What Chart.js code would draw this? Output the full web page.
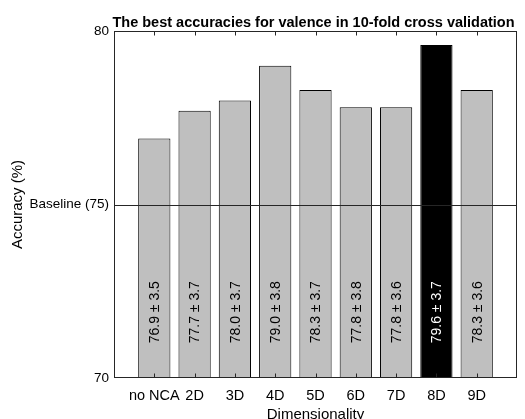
<!DOCTYPE html>
<html>
<head>
<meta charset="utf-8">
<script src="https://cdn.jsdelivr.net/npm/chart.js@4/dist/chart.umd.min.js"></script>
<style>
  html, body { margin: 0; padding: 0; background: #fff; }
  canvas { display: block; }
</style>
</head>
<body>
<canvas id="chart" width="525" height="419"></canvas>
<script>
// Best 10-fold cross-validation accuracy (mean ± std) per NCA dimensionality
const categories = ['no NCA', '2D', '3D', '4D', '5D', '6D', '7D', '8D', '9D'];
const accuracy = [76.9, 77.7, 78.0, 79.0, 78.3, 77.8, 77.8, 79.6, 78.3];
const stdDev = [3.5, 3.7, 3.7, 3.8, 3.7, 3.8, 3.6, 3.7, 3.6];
const baseline = 75;
const yTicks = [70, 75, 80];
const bestIndex = 7;
const chartTitle = 'The best accuracies for valence in 10-fold cross validation';

const FONT = "'Liberation Sans', Arial, Helvetica, sans-serif";
const AXIS_COLOR = '#262626';

// Title, baseline line, bar annotations, frame box and inward tick marks
const overlay = {
  id: 'overlay',
  afterDatasetsDraw(chart) {
    const { ctx, chartArea: a, scales } = chart;
    const meta = chart.getDatasetMeta(0);
    const yLabel = scales.y.getPixelForValue(71);

    ctx.save();
    ctx.fillStyle = '#000';
    ctx.font = 'bold 14.5px ' + FONT;
    ctx.textAlign = 'center';
    ctx.textBaseline = 'alphabetic';
    ctx.fillText(chartTitle, (a.left + a.right) / 2 - 2, a.top - 4.5);

    ctx.font = '14px ' + FONT;
    ctx.textAlign = 'left';
    ctx.textBaseline = 'middle';
    meta.data.forEach((bar, i) => {
      ctx.save();
      ctx.translate(bar.x, yLabel);
      ctx.rotate(-Math.PI / 2);
      ctx.fillStyle = i === bestIndex ? '#ffffff' : '#000000';
      ctx.fillText(accuracy[i].toFixed(1) + ' \u00B1 ' + stdDev[i].toFixed(1), 0, 1);
      ctx.restore();
    });

    ctx.strokeStyle = AXIS_COLOR;
    ctx.lineWidth = 1;
    const yb = Math.round(scales.y.getPixelForValue(baseline)) + 0.5;
    ctx.beginPath();
    ctx.moveTo(a.left, yb);
    ctx.lineTo(a.right, yb);
    ctx.stroke();

    const L = Math.round(a.left) + 0.5, R = Math.round(a.right) - 0.5;
    const T = Math.round(a.top) + 0.5, B = Math.round(a.bottom) - 0.5;
    ctx.strokeRect(L, T, R - L, B - T);

    ctx.beginPath();
    categories.forEach((c, i) => {
      const x = Math.round(scales.x.getPixelForValue(i + 1)) + 0.5;
      ctx.moveTo(x, B); ctx.lineTo(x, B - 4);
      ctx.moveTo(x, T); ctx.lineTo(x, T + 4);
    });
    ctx.stroke();
    ctx.restore();
  }
};

new Chart(document.getElementById('chart'), {
  type: 'bar',
  data: {
    datasets: [{
      data: accuracy.map((v, i) => ({ x: i + 1, y: v })),
      backgroundColor: accuracy.map((v, i) => i === bestIndex ? '#000000' : '#bfbfbf'),
      borderColor: '#000000',
      borderWidth: 1,
      borderSkipped: false,
      barPercentage: 1,
      categoryPercentage: 0.8
    }]
  },
  options: {
    responsive: false,
    animation: false,
    devicePixelRatio: 1,
    layout: { padding: { left: 0, right: 8, top: 31, bottom: 0 } },
    plugins: {
      legend: { display: false },
      tooltip: { enabled: false },
      title: { display: false }
    },
    scales: {
      x: {
        type: 'linear',
        min: 0,
        max: 10,
        offset: false,
        grid: { display: false, drawTicks: false, offset: false },
        border: { display: false },
        afterBuildTicks(scale) {
          scale.ticks = categories.map((c, i) => ({ value: i + 1 }));
        },
        afterFit(scale) { scale.height = 41; },
        ticks: {
          autoSkip: false,
          maxRotation: 0,
          padding: 9,
          color: '#000',
          font: { family: FONT, size: 14.5 },
          callback: (v) => categories[v - 1] ?? ''
        },
        title: {
          display: true,
          text: 'Dimensionality',
          color: '#000',
          font: { family: FONT, size: 15, lineHeight: 0.6 },
          padding: 0
        }
      },
      y: {
        min: 70,
        max: 80,
        grid: { display: false, drawTicks: false },
        border: { display: false },
        afterBuildTicks(scale) {
          scale.ticks = yTicks.map(v => ({ value: v }));
        },
        afterFit(scale) { scale.width = 114; },
        ticks: {
          padding: 5,
          color: '#000',
          font: { family: FONT, size: 13.5 },
          callback: (v) => v === baseline ? 'Baseline (' + baseline + ')' : String(v)
        },
        title: {
          display: true,
          text: 'Accuracy (%)',
          color: '#000',
          font: { family: FONT, size: 15, lineHeight: 1.2 },
          padding: { top: 9, bottom: 0 }
        }
      }
    }
  },
  plugins: [overlay]
});
</script>
</body>
</html>
